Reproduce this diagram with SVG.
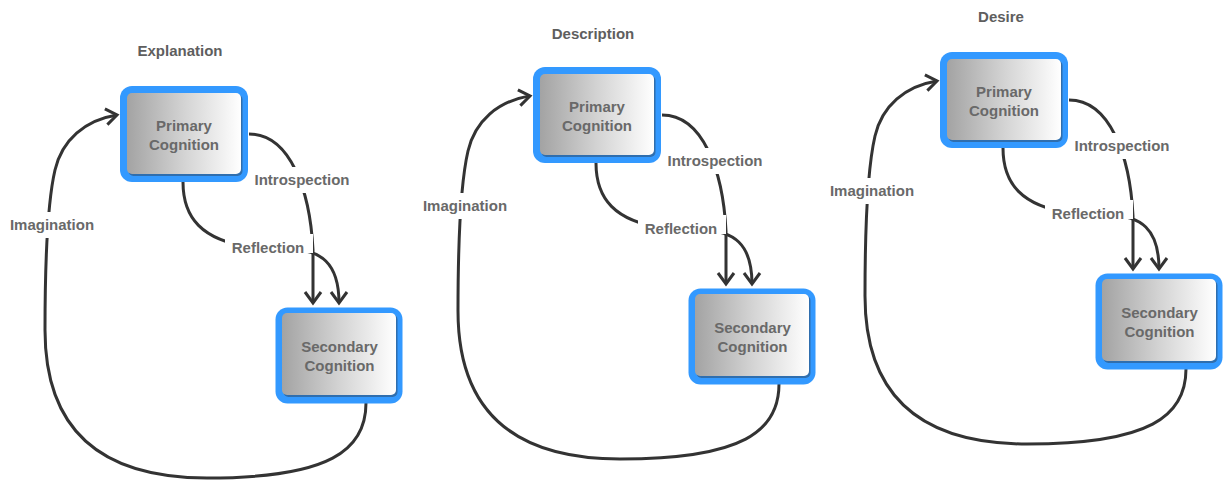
<svg xmlns="http://www.w3.org/2000/svg" width="1224" height="481" viewBox="0 0 1224 481">
<style>
.frame{fill:#3399ff}
.shadow{fill:#2f6eae}
.inner{fill:url(#gray)}
.ntext{font-family:"Liberation Sans",Arial,sans-serif;font-weight:bold;font-size:15px;fill:#696969;text-anchor:middle}
.title{font-family:"Liberation Sans",Arial,sans-serif;font-weight:bold;font-size:15px;fill:#5e5e5e;text-anchor:middle}
.conn{fill:none;stroke:#333;stroke-width:3}
.lbg{fill:#fff}
</style>
<defs>
<linearGradient id="gray" x1="0" y1="0" x2="1" y2="0">
<stop offset="0" stop-color="#a3a3a3"/>
<stop offset="0.5" stop-color="#d3d3d3"/>
<stop offset="1" stop-color="#ffffff"/>
</linearGradient>
<marker id="arr" markerUnits="userSpaceOnUse" markerWidth="24" markerHeight="24" viewBox="0 0 24 24" refX="14" refY="12" orient="auto">
<path d="M3,4 L14,12 L3,20" fill="none" stroke="#333" stroke-width="3"/>
</marker>
</defs>
<text id="title-explanation" class="title" x="180" y="56">Explanation</text>
<text id="title-description" class="title" x="593" y="39">Description</text>
<text id="title-desire" class="title" x="1001" y="22">Desire</text>

<g id="explanation-diagram">
<g id="explanation-connectors">
<path class="conn" d="M249,134 C290,134 310,190 313,250 L313,303" marker-end="url(#arr)"/>
<path class="conn" d="M183,182 C183,218 202,240 250,247 L290,249 C320,250 339,262 339,303" marker-end="url(#arr)"/>
<path class="conn" d="M366,403 C366,450 330,478 207,478 C90,478 45,420 45,330 C45,250 48,200 55,170 C62,140 85,120 117,115" marker-end="url(#arr)"/>
<rect class="lbg" x="250" y="167" width="102" height="26"/>
<text class="ntext" x="302" y="185">Introspection</text>
<rect class="lbg" x="225" y="234" width="88" height="19"/>
<text class="ntext" x="268" y="253">Reflection</text>
<rect class="lbg" x="6" y="212" width="92" height="26"/>
<text class="ntext" x="52" y="230">Imagination</text>
</g>
<g id="explanation-primary">
<rect class="frame" x="120" y="86" width="128" height="96" rx="12"/>
<rect class="shadow" x="128.5" y="94.5" width="114" height="81.5" rx="5"/>
<rect class="inner" x="127" y="93" width="114" height="81" rx="5"/>
<text class="ntext" x="184" y="130.5">Primary</text>
<text class="ntext" x="184" y="149.5">Cognition</text>
</g>
<g id="explanation-secondary">
<rect class="frame" x="275.5" y="307.5" width="127" height="96" rx="12"/>
<rect class="shadow" x="283.5" y="314.5" width="114" height="82.5" rx="5"/>
<rect class="inner" x="282" y="313" width="114" height="82" rx="5"/>
<text class="ntext" x="339.5" y="351.5">Secondary</text>
<text class="ntext" x="339.5" y="370.5">Cognition</text>
</g>
</g>

<g id="description-diagram" transform="translate(413,-19)">
<g id="description-connectors">
<path class="conn" d="M249,134 C290,134 310,190 313,250 L313,303" marker-end="url(#arr)"/>
<path class="conn" d="M183,182 C183,218 202,240 250,247 L290,249 C320,250 339,262 339,303" marker-end="url(#arr)"/>
<path class="conn" d="M366,403 C366,450 330,478 207,478 C90,478 45,420 45,330 C45,250 48,200 55,170 C62,140 85,120 117,115" marker-end="url(#arr)"/>
<rect class="lbg" x="250" y="167" width="102" height="26"/>
<text class="ntext" x="302" y="185">Introspection</text>
<rect class="lbg" x="225" y="234" width="88" height="19"/>
<text class="ntext" x="268" y="253">Reflection</text>
<rect class="lbg" x="6" y="212" width="92" height="26"/>
<text class="ntext" x="52" y="230">Imagination</text>
</g>
<g id="description-primary">
<rect class="frame" x="120" y="86" width="128" height="96" rx="12"/>
<rect class="shadow" x="128.5" y="94.5" width="114" height="81.5" rx="5"/>
<rect class="inner" x="127" y="93" width="114" height="81" rx="5"/>
<text class="ntext" x="184" y="130.5">Primary</text>
<text class="ntext" x="184" y="149.5">Cognition</text>
</g>
<g id="description-secondary">
<rect class="frame" x="275.5" y="307.5" width="127" height="96" rx="12"/>
<rect class="shadow" x="283.5" y="314.5" width="114" height="82.5" rx="5"/>
<rect class="inner" x="282" y="313" width="114" height="82" rx="5"/>
<text class="ntext" x="339.5" y="351.5">Secondary</text>
<text class="ntext" x="339.5" y="370.5">Cognition</text>
</g>
</g>

<g id="desire-diagram" transform="translate(820,-34)">
<g id="desire-connectors">
<path class="conn" d="M249,134 C290,134 310,190 313,250 L313,303" marker-end="url(#arr)"/>
<path class="conn" d="M183,182 C183,218 202,240 250,247 L290,249 C320,250 339,262 339,303" marker-end="url(#arr)"/>
<path class="conn" d="M366,403 C366,450 330,478 207,478 C90,478 45,420 45,330 C45,250 48,200 55,170 C62,140 85,120 117,115" marker-end="url(#arr)"/>
<rect class="lbg" x="250" y="167" width="102" height="26"/>
<text class="ntext" x="302" y="185">Introspection</text>
<rect class="lbg" x="225" y="234" width="88" height="19"/>
<text class="ntext" x="268" y="253">Reflection</text>
<rect class="lbg" x="6" y="212" width="92" height="26"/>
<text class="ntext" x="52" y="230">Imagination</text>
</g>
<g id="desire-primary">
<rect class="frame" x="120" y="86" width="128" height="96" rx="12"/>
<rect class="shadow" x="128.5" y="94.5" width="114" height="81.5" rx="5"/>
<rect class="inner" x="127" y="93" width="114" height="81" rx="5"/>
<text class="ntext" x="184" y="130.5">Primary</text>
<text class="ntext" x="184" y="149.5">Cognition</text>
</g>
<g id="desire-secondary">
<rect class="frame" x="275.5" y="307.5" width="127" height="96" rx="12"/>
<rect class="shadow" x="283.5" y="314.5" width="114" height="82.5" rx="5"/>
<rect class="inner" x="282" y="313" width="114" height="82" rx="5"/>
<text class="ntext" x="339.5" y="351.5">Secondary</text>
<text class="ntext" x="339.5" y="370.5">Cognition</text>
</g>
</g>
</svg>
